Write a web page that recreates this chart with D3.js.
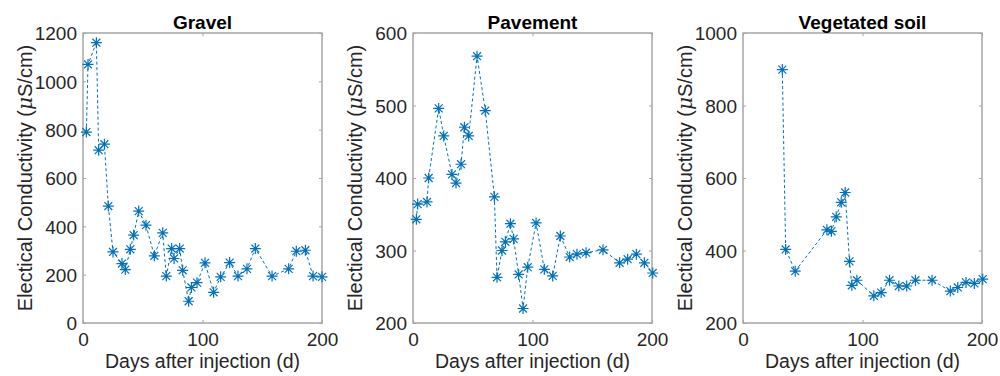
<!DOCTYPE html>
<html>
<head>
<meta charset="utf-8">
<script src="https://cdn.jsdelivr.net/npm/d3@7"></script>
<style>
  body { margin: 0; background: #fff; }
  svg { font-family: "Liberation Sans", Arial, sans-serif; }
</style>
</head>
<body>
<svg id="chart" width="1000" height="376"></svg>
<script>
// data
const gravelDays = [2.8, 4.2, 11.2, 13.1, 17.9, 21.2, 25.1, 32.6, 35.4, 39.6, 42.4, 46.6, 52.7, 59.7, 66.7, 69.7, 74.2, 76.2, 80.9, 83.4, 88.4, 90.7, 95.4, 102.1, 109.3, 115.2, 122.7, 129.7, 137.2, 144.2, 158.2, 172.1, 178.5, 186.1, 192.5, 200];
const gravelEC = [790, 1070, 1160, 715, 740, 484, 294, 246, 221, 305, 364, 463, 405, 278, 373, 194, 308, 267, 308, 218, 90, 147, 167, 249, 127, 191, 250, 194, 224, 308, 194, 224, 297, 301, 194, 191];

const pavementDays = [2.8, 3.9, 11.7, 13.1, 21.5, 25.7, 32.6, 36.0, 40.2, 43.0, 46.6, 53.6, 60.5, 68.1, 70.3, 74.5, 77.3, 81.5, 84.2, 88.4, 92.1, 96.0, 103.0, 109.9, 116.9, 123.3, 131.1, 137.2, 144.8, 159.0, 172.9, 179.6, 186.9, 193.6, 200.6];
const pavementEC = [343, 364, 367, 400, 496, 458, 405, 393, 419, 470, 458, 568, 493, 374, 263, 300, 312, 337, 316, 267, 220, 277, 338, 274, 265, 320, 291, 295, 297, 301, 283, 288, 295, 283, 269];

const soilDays = [32.9, 35.7, 43.7, 70.2, 74.0, 78.0, 82.2, 85.5, 89.1, 91.1, 95.3, 109.5, 115.6, 122.6, 130.4, 137.0, 144.3, 158.2, 173.5, 179.7, 186.6, 193.6, 200.6];
const soilEC = [899, 403, 343, 457, 453, 493, 533, 560, 370, 304, 318, 275, 284, 318, 302, 302, 318, 318, 288, 298, 312, 309, 321];

const titles = ["Gravel", "Pavement", "Vegetated soil"];
const yDomains = [[0, 1200], [200, 600], [200, 1000]];
const yTicks = [[0, 200, 400, 600, 800, 1000, 1200], [200, 300, 400, 500, 600], [200, 400, 600, 800, 1000]];
const xTicks = [0, 100, 200];

const series = [
  { x: gravelDays, y: gravelEC },
  { x: pavementDays, y: pavementEC },
  { x: soilDays, y: soilEC }
];

const svg = d3.select("#chart");
const lefts = [83, 413, 743];
const plotTop = 33, w = 239, h = 290;
const blue = "#0072BD";
const axisGray = "#a6a6a6";
const textColor = "#262626";
const fmt = d3.format("d");

// MATLAB-style '*' marker: plus + cross
function asterisk(r) {
  const d = r * 0.72;
  return `M${-r},0L${r},0M0,${-r}L0,${r}M${-d},${-d}L${d},${d}M${-d},${d}L${d},${-d}`;
}

series.forEach((s, i) => {
  const g = svg.append("g").attr("transform", `translate(${lefts[i]},${plotTop})`);
  const x = d3.scaleLinear().domain([0, 200]).range([0, w]);
  const y = d3.scaleLinear().domain(yDomains[i]).range([h, 0]);

  // box
  g.append("rect")
    .attr("width", w).attr("height", h)
    .attr("fill", "none")
    .attr("stroke", axisGray)
    .attr("stroke-width", 1.5);

  // ticks, inward on all four sides
  const tl = 3;
  const bottom = g.append("g").attr("transform", `translate(0,${h})`)
    .call(d3.axisBottom(x).tickValues(xTicks).tickFormat(fmt).tickSizeInner(-tl).tickSizeOuter(0).tickPadding(9));
  const topAx = g.append("g")
    .call(d3.axisTop(x).tickValues(xTicks).tickSizeInner(-tl).tickSizeOuter(0).tickFormat(""));
  const left = g.append("g")
    .call(d3.axisLeft(y).tickValues(yTicks[i]).tickFormat(fmt).tickSizeInner(-tl).tickSizeOuter(0).tickPadding(6));
  const right = g.append("g").attr("transform", `translate(${w},0)`)
    .call(d3.axisRight(y).tickValues(yTicks[i]).tickSizeInner(-tl).tickSizeOuter(0).tickFormat(""));

  [bottom, topAx, left, right].forEach(a => {
    a.select(".domain").remove();
    a.selectAll(".tick line").attr("stroke", axisGray).attr("stroke-width", 1);
    a.selectAll(".tick text").attr("fill", textColor).style("font-size", "19px");
  });
  left.selectAll(".tick text").attr("dy", "0.36em");
  bottom.selectAll(".tick text").attr("dy", "0.72em");

  // dashed line
  const pts = s.x.map((d, k) => [d, s.y[k]]);
  g.append("path")
    .datum(pts)
    .attr("fill", "none")
    .attr("stroke", blue)
    .attr("stroke-width", 1)
    .attr("stroke-dasharray", "3,2.5")
    .attr("d", d3.line().x(d => x(d[0])).y(d => y(d[1])));

  // markers
  g.append("g").selectAll("path")
    .data(pts)
    .enter().append("path")
    .attr("transform", d => `translate(${x(d[0])},${y(d[1])})`)
    .attr("d", asterisk(5.5))
    .attr("fill", "none")
    .attr("stroke", blue)
    .attr("stroke-width", 1.2);

  // title
  g.append("text")
    .attr("x", w / 2).attr("y", -4)
    .attr("text-anchor", "middle")
    .attr("fill", "#000")
    .style("font-size", "19px")
    .style("font-weight", "bold")
    .text(titles[i]);

  // x label
  g.append("text")
    .attr("x", w / 2).attr("y", h + 45)
    .attr("text-anchor", "middle")
    .attr("fill", textColor)
    .style("font-size", "19.5px")
    .text("Days after injection (d)");

  // y label
  const yl = g.append("text")
    .attr("transform", `translate(-51,${h / 2}) rotate(-90)`)
    .attr("text-anchor", "middle")
    .attr("fill", textColor)
    .style("font-size", "20px");
  yl.append("tspan").text("Electical Conductivity (");
  yl.append("tspan").attr("font-style", "italic").attr("font-family", "'DejaVu Serif', serif").text("μ");
  yl.append("tspan").text("S/cm)");
});
</script>
</body>
</html>
